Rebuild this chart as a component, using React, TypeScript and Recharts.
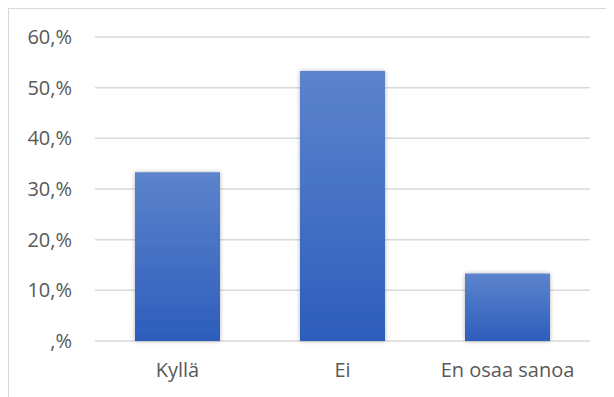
import { BarChart, Bar, XAxis, YAxis, CartesianGrid } from 'recharts';

const categories = ['Kyllä', 'Ei', 'En osaa sanoa'];
const shares = [33.3, 53.3, 13.3];
const yTicks = [0, 10, 20, 30, 40, 50, 60];

const data = categories.map((name, i) => ({ name, value: shares[i] }));

const formatPercent = (v: number) => (v === 0 ? ',%' : `${v},%`);

const tickStyle = { fill: '#595959', fontSize: 20, fontFamily: 'Open Sans, sans-serif' };

export default function App() {
  return (
    <div
      style={{
        width: 605,
        height: 388,
        borderTop: '1px solid #d9d9d9',
        borderLeft: '1px solid #d9d9d9',
        background: '#fff',
      }}
    >
      <BarChart
        width={605}
        height={388}
        data={data}
        margin={{ top: 28, right: 24, left: 0, bottom: 26 }}
        barCategoryGap={40}
      >
        <defs>
          <linearGradient id="barFill" x1="0" y1="0" x2="0" y2="1">
            <stop offset="0%" stopColor="#5C84CC" />
            <stop offset="100%" stopColor="#2D5DBC" />
          </linearGradient>
          <filter id="barShadow" x="-20%" y="-20%" width="140%" height="140%">
            <feDropShadow dx="0" dy="0" stdDeviation="2" floodColor="#000" floodOpacity="0.3" />
          </filter>
        </defs>
        <CartesianGrid vertical={false} stroke="#d9d9d9" strokeWidth={1.5} />
        <XAxis
          dataKey="name"
          axisLine={false}
          tickLine={false}
          tick={tickStyle}
          tickMargin={16}
          height={30}
          interval={0}
        />
        <YAxis
          domain={[0, 60]}
          ticks={yTicks}
          tickFormatter={formatPercent}
          axisLine={false}
          tickLine={false}
          tick={tickStyle}
          tickMargin={17}
          width={86}
          interval={0}
        />
        <Bar
          dataKey="value"
          fill="url(#barFill)"
          filter="url(#barShadow)"
          isAnimationActive={false}
        />
      </BarChart>
    </div>
  );
}
